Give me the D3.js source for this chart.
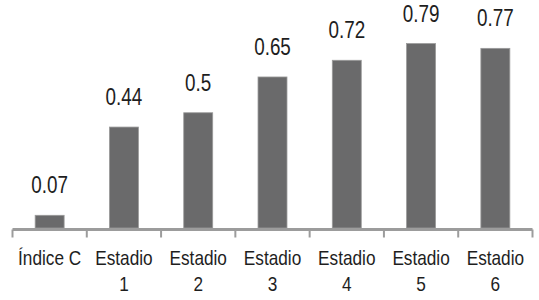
<!DOCTYPE html>
<html>
<head>
<meta charset="utf-8">
<script src="https://cdn.jsdelivr.net/npm/d3@7"></script>
<style>
  body { margin: 0; background: #fff; }
  text { font-family: "Liberation Sans", Arial, sans-serif; fill: #1e1e1e; }
</style>
</head>
<body>
<div id="chart"></div>
<script>
// Data
var categorias = ["Índice C", "Estadio 1", "Estadio 2", "Estadio 3", "Estadio 4", "Estadio 5", "Estadio 6"];
var etiquetas = [["Índice C"], ["Estadio", "1"], ["Estadio", "2"], ["Estadio", "3"], ["Estadio", "4"], ["Estadio", "5"], ["Estadio", "6"]];
var valores = [0.07, 0.44, 0.5, 0.65, 0.72, 0.79, 0.77];

var w = 539;
var h = 300;
var baseY = 229.5;
var smal = 0.82; // skriften er smal (narrow), så den presses vandret

var svg = d3.select("#chart")
    .append("svg")
    .attr("width", w)
    .attr("height", h);

// Skalaer
var xScale = d3.scaleBand()
    .domain(categorias)
    .range([12.5, 532.5])
    .paddingInner(0.61)
    .paddingOuter(0.305);

var yScale = d3.scaleLinear().domain([0, 1]).range([232, -6.5]);

function midt(i) { return xScale(categorias[i]) + xScale.bandwidth() / 2; }

// Søjler
svg.append("g")
    .selectAll("rect")
    .data(valores)
    .enter()
    .append("rect")
    .attr("x", function (d, i) { return xScale(categorias[i]); })
    .attr("y", function (d) { return yScale(d); })
    .attr("width", xScale.bandwidth())
    .attr("height", function (d) { return baseY - 1.5 - yScale(d); })
    .style("fill", "#6a6a6b")
    .style("stroke", "#9a9a9a")
    .style("stroke-width", 0.8);

// Værdier over søjlerne
svg.append("g")
    .selectAll("text")
    .data(valores)
    .enter()
    .append("text")
    .attr("transform", function (d, i) {
        return "translate(" + midt(i) + "," + (yScale(d) - 22) + ") scale(" + smal + ",1)";
    })
    .attr("text-anchor", "middle")
    .style("font-size", "23px")
    .text(function (d) { return d; });

// X-akse med streger mellem kategorierne
var step = xScale.step();
var grænser = categorias.map(function (c) { return xScale(c) - step * xScale.paddingInner() / 2; });
grænser.push(xScale.range()[1]);

svg.append("line")
    .attr("x1", xScale.range()[0])
    .attr("x2", xScale.range()[1])
    .attr("y1", baseY)
    .attr("y2", baseY)
    .style("stroke", "#9c9c9c")
    .style("stroke-width", 3);

svg.append("g")
    .selectAll("line")
    .data(grænser)
    .enter()
    .append("line")
    .attr("x1", function (d) { return d; })
    .attr("x2", function (d) { return d; })
    .attr("y1", baseY)
    .attr("y2", baseY + 8)
    .style("stroke", "#9c9c9c")
    .style("stroke-width", 2);

// Kategori-labels
var lab = svg.append("g")
    .selectAll("text")
    .data(etiquetas)
    .enter()
    .append("text")
    .attr("transform", function (d, i) { return "translate(" + midt(i) + ",0) scale(" + smal + ",1)"; })
    .attr("text-anchor", "middle")
    .style("font-size", "21px");

lab.selectAll("tspan")
    .data(function (d) { return d; })
    .enter()
    .append("tspan")
    .attr("x", 0)
    .attr("y", function (d, j) { return 265 + j * 26.5; })
    .text(function (d) { return d; });
</script>
</body>
</html>
